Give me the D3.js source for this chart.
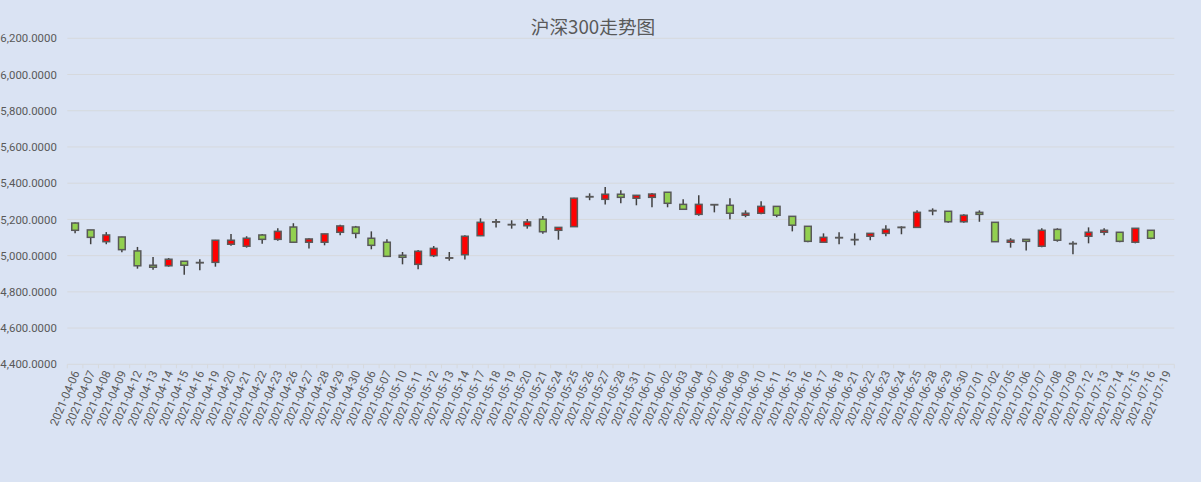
<!DOCTYPE html>
<html>
<head>
<meta charset="utf-8">
<script src="https://cdn.jsdelivr.net/npm/d3@7"></script>
<style>
  body { margin: 0; background: #dae3f3; }
  svg { display: block; }
</style>
</head>
<body>
<svg width="1201" height="482"></svg>
<script>
// trading days shown on the x axis (last one has no candle)
const dates = ['2021-04-06','2021-04-07','2021-04-08','2021-04-09','2021-04-12','2021-04-13','2021-04-14','2021-04-15','2021-04-16','2021-04-19',
  '2021-04-20','2021-04-21','2021-04-22','2021-04-23','2021-04-26','2021-04-27','2021-04-28','2021-04-29','2021-04-30','2021-05-06',
  '2021-05-07','2021-05-10','2021-05-11','2021-05-12','2021-05-13','2021-05-14','2021-05-17','2021-05-18','2021-05-19','2021-05-20',
  '2021-05-21','2021-05-24','2021-05-25','2021-05-26','2021-05-27','2021-05-28','2021-05-31','2021-06-01','2021-06-02','2021-06-03',
  '2021-06-04','2021-06-07','2021-06-08','2021-06-09','2021-06-10','2021-06-11','2021-06-15','2021-06-16','2021-06-17','2021-06-18',
  '2021-06-21','2021-06-22','2021-06-23','2021-06-24','2021-06-25','2021-06-28','2021-06-29','2021-06-30','2021-07-01','2021-07-02',
  '2021-07-05','2021-07-06','2021-07-07','2021-07-08','2021-07-09','2021-07-12','2021-07-13','2021-07-14','2021-07-15','2021-07-16',
  '2021-07-19'];

const open = [5180,5142,5077,5103,5026,4947,4944,4969,4960,4963,
  5063,5052,5114,5090,5158,5074,5074,5129,5158,5096,
  5074,5002,4952,5000,4986,5005,5110,5185,5170,5165,
  5201,5140,5160,5324,5311,5339,5317,5322,5350,5283,
  5228,5282,5278,5223,5234,5272,5217,5162,5074,5098,
  5087,5107,5123,5155,5156,5247,5245,5187,5239,5184,
  5074,5090,5052,5145,5065,5107,5129,5129,5074,5140];
const high = [5183,5142,5130,5104,5048,4992,4987,4970,4980,5087,
  5120,5107,5120,5151,5179,5096,5121,5171,5164,5134,
  5090,5020,5031,5053,5020,5112,5206,5202,5195,5202,
  5219,5158,5319,5344,5379,5361,5335,5346,5351,5311,
  5333,5282,5317,5250,5300,5273,5218,5163,5123,5129,
  5123,5124,5168,5162,5250,5261,5246,5228,5250,5185,
  5096,5091,5151,5151,5079,5156,5151,5130,5152,5141];
const low = [5123,5063,5063,5018,4928,4922,4939,4895,4919,4939,
  5055,5044,5066,5082,5072,5040,5057,5112,5096,5035,
  4995,4952,4925,4992,4972,4978,5108,5156,5149,5149,
  5121,5088,5158,5306,5283,5289,5278,5267,5267,5255,
  5220,5239,5201,5212,5228,5212,5134,5074,5073,5063,
  5057,5085,5107,5118,5155,5223,5182,5182,5187,5075,
  5044,5029,5046,5077,5007,5068,5112,5074,5068,5090];
const close = [5140,5101,5114,5033,4944,4936,4980,4947,4962,5085,
  5085,5096,5090,5134,5074,5092,5120,5164,5123,5057,
  4996,4991,5024,5040,4988,5107,5184,5187,5172,5186,
  5132,5156,5317,5326,5339,5322,5333,5340,5289,5256,
  5283,5280,5234,5234,5272,5223,5168,5079,5101,5100,
  5089,5123,5145,5157,5239,5249,5187,5223,5228,5077,
  5085,5079,5140,5085,5067,5129,5140,5079,5151,5096];

const yTicks = [4400,4600,4800,5000,5200,5400,5600,5800,6000,6200];

const svg = d3.select('svg');
const width = +svg.attr('width');
const height = +svg.attr('height');
const margin = {top: 38.3, right: 26.7, bottom: 117.7, left: 67.3};
const innerWidth = width - margin.left - margin.right;
const innerHeight = height - margin.top - margin.bottom;

svg.append('rect').attr('width', width).attr('height', height).attr('fill', '#dae3f3');

// title
svg.append('text')
  .attr('x', 593).attr('y', 25.5)
  .attr('text-anchor', 'middle')
  .attr('dominant-baseline', 'central')
  .style('font-family', '"Noto Sans CJK SC", sans-serif')
  .style('font-size', '18.7px')
  .attr('fill', '#595959')
  .text('沪深300走势图');

const xScale = d3.scaleBand().domain(dates).range([0, innerWidth]);
const yScale = d3.scaleLinear().domain([4400, 6200]).range([innerHeight, 0]);

const g = svg.append('g').attr('transform', `translate(${margin.left}, ${margin.top})`);

// horizontal grid lines
g.selectAll('.grid').data(yTicks.slice(1))
  .enter().append('line')
    .attr('class', 'grid')
    .attr('x1', 0).attr('x2', innerWidth)
    .attr('y1', d => yScale(d)).attr('y2', d => yScale(d))
    .attr('stroke', '#d6d9dd').attr('stroke-width', 1);

// y axis labels only, no line
const yAxis = g.append('g')
  .call(d3.axisLeft(yScale).tickValues(yTicks).tickFormat(d3.format(',.4f')).tickSize(0).tickPadding(10.5));
yAxis.select('.domain').remove();
yAxis.selectAll('text')
  .style('font-family', 'Roboto, sans-serif')
  .style('font-size', '11.4px')
  .attr('fill', '#595959');

// x axis: line, ticks on category boundaries, rotated labels
g.append('line')
  .attr('x1', 0).attr('x2', innerWidth)
  .attr('y1', innerHeight).attr('y2', innerHeight)
  .attr('stroke', '#d6d9dd').attr('stroke-width', 1);
g.selectAll('.xtick').data(d3.range(dates.length + 1))
  .enter().append('line')
    .attr('class', 'xtick')
    .attr('x1', i => i * xScale.step()).attr('x2', i => i * xScale.step())
    .attr('y1', innerHeight).attr('y2', innerHeight + 4)
    .attr('stroke', '#d6d9dd').attr('stroke-width', 1);
g.selectAll('.xlabel').data(dates)
  .enter().append('text')
    .attr('class', 'xlabel')
    .attr('transform', d => `translate(${xScale(d) + xScale.bandwidth() / 2 + 1}, ${innerHeight + 7}) rotate(-67)`)
    .attr('text-anchor', 'end')
    .attr('dominant-baseline', 'central')
    .style('font-family', 'Roboto, sans-serif')
    .style('font-size', '11.6px')
    .attr('fill', '#595959')
    .text(d => d);

// candles: red = close above open, green = close below open
const candles = open.map((o, i) => ({date: dates[i], open: o, high: high[i], low: low[i], close: close[i]}));
const bodyWidth = xScale.bandwidth() * 0.43;

const c = g.selectAll('.candle').data(candles)
  .enter().append('g')
    .attr('class', 'candle')
    .attr('transform', d => `translate(${xScale(d.date) + xScale.bandwidth() / 2}, 0)`);

c.append('line')
  .attr('y1', d => yScale(d.high)).attr('y2', d => yScale(d.low))
  .attr('stroke', '#404040').attr('stroke-width', 1.5);

c.append('rect')
  .attr('x', -bodyWidth / 2)
  .attr('width', bodyWidth)
  .attr('y', d => yScale(Math.max(d.open, d.close)))
  .attr('height', d => Math.abs(yScale(d.open) - yScale(d.close)))
  .attr('fill', d => d.close >= d.open ? '#ff0000' : '#92d050')
  .attr('stroke', '#595959').attr('stroke-width', 1.5);
</script>
</body>
</html>
